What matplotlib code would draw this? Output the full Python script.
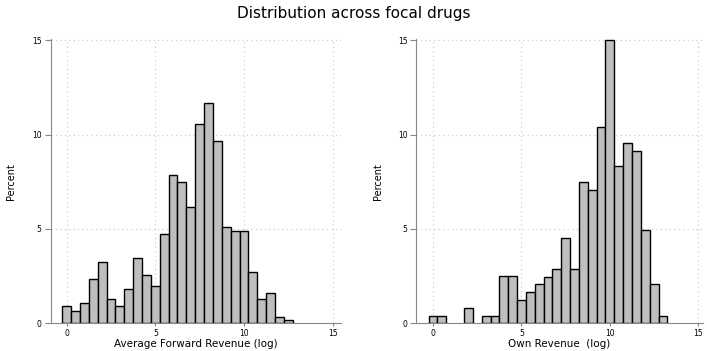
import matplotlib
matplotlib.use("Agg")
import matplotlib.pyplot as plt
import numpy as np

plt.rcParams['font.family'] = ['DejaVu Sans']

# left panel: average forward revenue (log), bin centres and percent
fwd_centers = [0, 0.5, 1, 1.5, 2, 2.5, 3, 3.5, 4, 4.5, 5, 5.5, 6, 6.5, 7,
               7.5, 8, 8.5, 9, 9.5, 10, 10.5, 11, 11.5, 12, 12.5]
fwd_pct = [0.9, 0.67, 1.06, 2.36, 3.27, 1.27, 0.9, 1.8, 3.45, 2.54, 1.99,
           4.74, 7.85, 7.48, 6.16, 10.58, 11.67, 9.65, 5.09, 4.91, 4.91,
           2.71, 1.27, 1.62, 0.35, 0.16]

# right panel: own revenue (log)
own_centers = [0, 0.5, 2, 3, 3.5, 4, 4.5, 5, 5.5, 6, 6.5, 7, 7.5, 8, 8.5,
               9, 9.5, 10, 10.5, 11, 11.5, 12, 12.5, 13]
own_pct = [0.41, 0.41, 0.79, 0.39, 0.39, 2.48, 2.48, 1.23, 1.65, 2.06,
           2.46, 2.89, 4.54, 2.89, 7.48, 7.08, 10.4, 15.0, 8.31, 9.54,
           9.12, 4.96, 2.06, 0.39]

ticks = [0, 5, 10, 15]
xlabels = ["Average Forward Revenue (log)", "Own Revenue  (log)"]

fig = plt.figure(figsize=(7.07, 3.51), dpi=100)
fig.text(0.5, 0.962, "Distribution across focal drugs", ha="center",
         va="center", fontsize=11)

ax1 = fig.add_axes([0.0717, 0.079, 0.4113, 0.809])
ax2 = fig.add_axes([0.589, 0.079, 0.405, 0.809])

panels = [(ax1, fwd_centers, fwd_pct, xlabels[0], (-0.9, 15.5), -0.12),
          (ax2, own_centers, own_pct, xlabels[1], (-0.94, 15.25), -0.115)]

for ax, c, p, lab, xl, ylx in panels:
    ax.bar(c, p, width=0.5, color="#bebebe", edgecolor="black",
           linewidth=1.0, zorder=3)
    ax.set_xlim(*xl)
    ax.set_ylim(0, 15.05)
    ax.set_xticks(ticks)
    ax.set_yticks(ticks)
    ax.tick_params(labelsize=5.5, color="#888888", width=0.8)
    ax.tick_params(axis="y", length=4, pad=2.5)
    ax.tick_params(axis="x", length=2.5, pad=1.5)
    ax.grid(True, linestyle=(0, (1, 3)), color="#c8c8c8", linewidth=0.8,
            zorder=0)
    for s in ["top", "right"]:
        ax.spines[s].set_visible(False)
    for s in ["left", "bottom"]:
        ax.spines[s].set_color("#888888")
        ax.spines[s].set_linewidth(0.8)
    ax.set_xlabel(lab, fontsize=7.5)
    ax.xaxis.set_label_coords(0.5, -0.054)
    ax.set_ylabel("Percent", fontsize=7)
    ax.yaxis.set_label_coords(ylx, 0.5)

fig.savefig("out.png", dpi=100)
